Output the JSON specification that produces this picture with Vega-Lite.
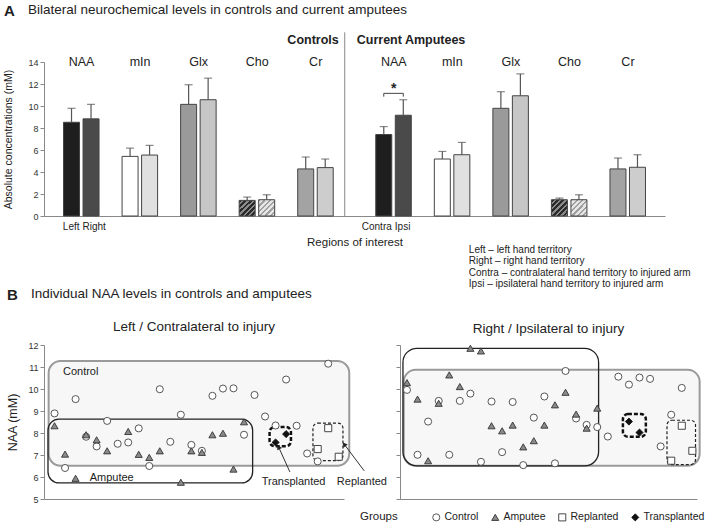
{
  "$schema": "https://vega.github.io/schema/vega-lite/v6.json",
  "padding": {"left": 3, "top": 3, "right": 5, "bottom": 3},
  "config": {
    "font": "Liberation Sans",
    "view": {"stroke": null},
    "axis": {"labelColor": "#333", "titleColor": "#222", "domainColor": "#888", "tickColor": "#888", "grid": false, "labelFont": "Liberation Sans", "titleFont": "Liberation Sans", "titleFontWeight": "normal", "labelOverlap": false},
    "axisY": {"tickCount": 8},
    "text": {"color": "#222", "font": "Liberation Sans"},
    "title": {"color": "#222", "font": "Liberation Sans", "subtitleFont": "Liberation Sans", "subtitleColor": "#222"},
    "legend": {"labelFont": "Liberation Sans", "titleFont": "Liberation Sans"}
  },
  "title": {"text": "A", "anchor": "start", "frame": "bounds", "fontSize": 15, "fontWeight": "bold", "offset": -16},
  "datasets": {
    "bars": [
      {"slot": "C NAA L", "grp": "Controls", "metab": "NAA", "side": "L", "series": "NAA L", "mean": 8.52, "hi": 9.79},
      {"slot": "C NAA R", "grp": "Controls", "metab": "NAA", "side": "R", "series": "NAA R", "mean": 8.83, "hi": 10.15},
      {"slot": "C mIn L", "grp": "Controls", "metab": "mIn", "side": "L", "series": "mIn L", "mean": 5.42, "hi": 6.17},
      {"slot": "C mIn R", "grp": "Controls", "metab": "mIn", "side": "R", "series": "mIn R", "mean": 5.54, "hi": 6.42},
      {"slot": "C Glx L", "grp": "Controls", "metab": "Glx", "side": "L", "series": "Glx L", "mean": 10.15, "hi": 11.93},
      {"slot": "C Glx R", "grp": "Controls", "metab": "Glx", "side": "R", "series": "Glx R", "mean": 10.57, "hi": 12.53},
      {"slot": "C Cho L", "grp": "Controls", "metab": "Cho", "side": "L", "series": "Cho L", "mean": 1.42, "hi": 1.72},
      {"slot": "C Cho R", "grp": "Controls", "metab": "Cho", "side": "R", "series": "Cho R", "mean": 1.48, "hi": 1.93},
      {"slot": "C Cr L", "grp": "Controls", "metab": "Cr", "side": "L", "series": "Cr L", "mean": 4.28, "hi": 5.36},
      {"slot": "C Cr R", "grp": "Controls", "metab": "Cr", "side": "R", "series": "Cr R", "mean": 4.40, "hi": 5.18},
      {"slot": "A NAA L", "grp": "Amputees", "metab": "NAA", "side": "L", "series": "NAA L", "mean": 7.41, "hi": 8.13},
      {"slot": "A NAA R", "grp": "Amputees", "metab": "NAA", "side": "R", "series": "NAA R", "mean": 9.16, "hi": 10.57},
      {"slot": "A mIn L", "grp": "Amputees", "metab": "mIn", "side": "L", "series": "mIn L", "mean": 5.18, "hi": 5.87},
      {"slot": "A mIn R", "grp": "Amputees", "metab": "mIn", "side": "R", "series": "mIn R", "mean": 5.57, "hi": 6.69},
      {"slot": "A Glx L", "grp": "Amputees", "metab": "Glx", "side": "L", "series": "Glx L", "mean": 9.79, "hi": 11.30},
      {"slot": "A Glx R", "grp": "Amputees", "metab": "Glx", "side": "R", "series": "Glx R", "mean": 10.93, "hi": 12.92},
      {"slot": "A Cho L", "grp": "Amputees", "metab": "Cho", "side": "L", "series": "Cho L", "mean": 1.48, "hi": 1.63},
      {"slot": "A Cho R", "grp": "Amputees", "metab": "Cho", "side": "R", "series": "Cho R", "mean": 1.48, "hi": 1.93},
      {"slot": "A Cr L", "grp": "Amputees", "metab": "Cr", "side": "L", "series": "Cr L", "mean": 4.28, "hi": 5.27},
      {"slot": "A Cr R", "grp": "Amputees", "metab": "Cr", "side": "R", "series": "Cr R", "mean": 4.43, "hi": 5.57}
    ],
    "sidelabels": [
      {"slot": "C NAA L", "side": "L", "lab": "Left"},
      {"slot": "C NAA R", "side": "R", "lab": "Right"},
      {"slot": "A NAA L", "side": "L", "lab": "Contra"},
      {"slot": "A NAA R", "side": "R", "lab": "Ipsi"}
    ],
    "bracket": [
      {"slot": "A NAA L", "v": 10.85, "o": 0},
      {"slot": "A NAA L", "v": 11.15, "o": 1},
      {"slot": "A NAA R", "v": 11.15, "o": 2},
      {"slot": "A NAA R", "v": 10.85, "o": 3}
    ],
    "pts": [
      {"panel": "Left", "group": "Control", "idx": 1, "naa": 8.89},
      {"panel": "Left", "group": "Control", "idx": 2, "naa": 6.41},
      {"panel": "Left", "group": "Control", "idx": 3, "naa": 9.54},
      {"panel": "Left", "group": "Control", "idx": 4, "naa": 7.83},
      {"panel": "Left", "group": "Control", "idx": 5, "naa": 7.39},
      {"panel": "Left", "group": "Control", "idx": 6, "naa": 8.55},
      {"panel": "Left", "group": "Control", "idx": 7, "naa": 7.51},
      {"panel": "Left", "group": "Control", "idx": 8, "naa": 7.57},
      {"panel": "Left", "group": "Control", "idx": 9, "naa": 8.21},
      {"panel": "Left", "group": "Control", "idx": 10, "naa": 6.50},
      {"panel": "Left", "group": "Control", "idx": 11, "naa": 9.99},
      {"panel": "Left", "group": "Control", "idx": 12, "naa": 7.60},
      {"panel": "Left", "group": "Control", "idx": 13, "naa": 8.83},
      {"panel": "Left", "group": "Control", "idx": 14, "naa": 7.46},
      {"panel": "Left", "group": "Control", "idx": 15, "naa": 7.19},
      {"panel": "Left", "group": "Control", "idx": 16, "naa": 9.69},
      {"panel": "Left", "group": "Control", "idx": 17, "naa": 10.02},
      {"panel": "Left", "group": "Control", "idx": 18, "naa": 10.03},
      {"panel": "Left", "group": "Control", "idx": 19, "naa": 7.92},
      {"panel": "Left", "group": "Control", "idx": 20, "naa": 9.73},
      {"panel": "Left", "group": "Control", "idx": 21, "naa": 8.75},
      {"panel": "Left", "group": "Control", "idx": 22, "naa": 8.34},
      {"panel": "Left", "group": "Control", "idx": 23, "naa": 10.43},
      {"panel": "Left", "group": "Control", "idx": 24, "naa": 8.33},
      {"panel": "Left", "group": "Control", "idx": 25, "naa": 7.07},
      {"panel": "Left", "group": "Control", "idx": 26, "naa": 6.71},
      {"panel": "Left", "group": "Control", "idx": 27, "naa": 11.15},
      {"panel": "Left", "group": "Amputee", "idx": 1, "naa": 8.33},
      {"panel": "Left", "group": "Amputee", "idx": 2, "naa": 7.04},
      {"panel": "Left", "group": "Amputee", "idx": 3, "naa": 5.94},
      {"panel": "Left", "group": "Amputee", "idx": 4, "naa": 7.92},
      {"panel": "Left", "group": "Amputee", "idx": 5, "naa": 7.69},
      {"panel": "Left", "group": "Amputee", "idx": 6, "naa": 7.19},
      {"panel": "Left", "group": "Amputee", "idx": 8, "naa": 8.07},
      {"panel": "Left", "group": "Amputee", "idx": 9, "naa": 7.03},
      {"panel": "Left", "group": "Amputee", "idx": 10, "naa": 6.89},
      {"panel": "Left", "group": "Amputee", "idx": 11, "naa": 7.19},
      {"panel": "Left", "group": "Amputee", "idx": 13, "naa": 5.76},
      {"panel": "Left", "group": "Amputee", "idx": 14, "naa": 7.19},
      {"panel": "Left", "group": "Amputee", "idx": 15, "naa": 7.12},
      {"panel": "Left", "group": "Amputee", "idx": 16, "naa": 7.92},
      {"panel": "Left", "group": "Amputee", "idx": 17, "naa": 7.99},
      {"panel": "Left", "group": "Amputee", "idx": 18, "naa": 6.36},
      {"panel": "Left", "group": "Amputee", "idx": 19, "naa": 8.51},
      {"panel": "Left", "group": "Replanted", "idx": 27, "naa": 8.22},
      {"panel": "Left", "group": "Replanted", "idx": 26, "naa": 7.27},
      {"panel": "Left", "group": "Replanted", "idx": 28, "naa": 6.92},
      {"panel": "Left", "group": "Transplanted", "idx": 23, "naa": 7.95},
      {"panel": "Left", "group": "Transplanted", "idx": 22, "naa": 7.57},
      {"panel": "Right", "group": "Control", "idx": 1, "naa": 9.96},
      {"panel": "Right", "group": "Control", "idx": 2, "naa": 7.01},
      {"panel": "Right", "group": "Control", "idx": 3, "naa": 8.52},
      {"panel": "Right", "group": "Control", "idx": 4, "naa": 9.46},
      {"panel": "Right", "group": "Control", "idx": 5, "naa": 7.01},
      {"panel": "Right", "group": "Control", "idx": 6, "naa": 9.46},
      {"panel": "Right", "group": "Control", "idx": 7, "naa": 9.79},
      {"panel": "Right", "group": "Control", "idx": 8, "naa": 6.69},
      {"panel": "Right", "group": "Control", "idx": 9, "naa": 9.43},
      {"panel": "Right", "group": "Control", "idx": 10, "naa": 7.13},
      {"panel": "Right", "group": "Control", "idx": 11, "naa": 9.41},
      {"panel": "Right", "group": "Control", "idx": 12, "naa": 6.54},
      {"panel": "Right", "group": "Control", "idx": 13, "naa": 8.70},
      {"panel": "Right", "group": "Control", "idx": 14, "naa": 9.66},
      {"panel": "Right", "group": "Control", "idx": 15, "naa": 6.62},
      {"panel": "Right", "group": "Control", "idx": 16, "naa": 10.82},
      {"panel": "Right", "group": "Control", "idx": 17, "naa": 8.66},
      {"panel": "Right", "group": "Control", "idx": 18, "naa": 8.37},
      {"panel": "Right", "group": "Control", "idx": 19, "naa": 8.27},
      {"panel": "Right", "group": "Control", "idx": 20, "naa": 7.84},
      {"panel": "Right", "group": "Control", "idx": 21, "naa": 10.56},
      {"panel": "Right", "group": "Control", "idx": 22, "naa": 10.20},
      {"panel": "Right", "group": "Control", "idx": 23, "naa": 10.52},
      {"panel": "Right", "group": "Control", "idx": 24, "naa": 10.46},
      {"panel": "Right", "group": "Control", "idx": 25, "naa": 7.39},
      {"panel": "Right", "group": "Control", "idx": 26, "naa": 8.83},
      {"panel": "Right", "group": "Control", "idx": 27, "naa": 10.05},
      {"panel": "Right", "group": "Amputee", "idx": 1, "naa": 10.29},
      {"panel": "Right", "group": "Amputee", "idx": 2, "naa": 9.54},
      {"panel": "Right", "group": "Amputee", "idx": 3, "naa": 6.74},
      {"panel": "Right", "group": "Amputee", "idx": 4, "naa": 9.35},
      {"panel": "Right", "group": "Amputee", "idx": 5, "naa": 10.64},
      {"panel": "Right", "group": "Amputee", "idx": 6, "naa": 10.11},
      {"panel": "Right", "group": "Amputee", "idx": 7, "naa": 11.85},
      {"panel": "Right", "group": "Amputee", "idx": 8, "naa": 11.73},
      {"panel": "Right", "group": "Amputee", "idx": 9, "naa": 8.33},
      {"panel": "Right", "group": "Amputee", "idx": 10, "naa": 8.10},
      {"panel": "Right", "group": "Amputee", "idx": 11, "naa": 8.36},
      {"panel": "Right", "group": "Amputee", "idx": 12, "naa": 7.37},
      {"panel": "Right", "group": "Amputee", "idx": 13, "naa": 7.65},
      {"panel": "Right", "group": "Amputee", "idx": 14, "naa": 8.36},
      {"panel": "Right", "group": "Amputee", "idx": 15, "naa": 9.28},
      {"panel": "Right", "group": "Amputee", "idx": 16, "naa": 9.85},
      {"panel": "Right", "group": "Amputee", "idx": 17, "naa": 8.86},
      {"panel": "Right", "group": "Amputee", "idx": 18, "naa": 8.22},
      {"panel": "Right", "group": "Amputee", "idx": 19, "naa": 9.13},
      {"panel": "Right", "group": "Replanted", "idx": 27, "naa": 8.33},
      {"panel": "Right", "group": "Replanted", "idx": 28, "naa": 7.19},
      {"panel": "Right", "group": "Replanted", "idx": 26, "naa": 6.74},
      {"panel": "Right", "group": "Transplanted", "idx": 22, "naa": 8.52},
      {"panel": "Right", "group": "Transplanted", "idx": 23, "naa": 8.02}
    ],
    "boxes": [
      {"panel": "Left", "box": "Control", "x1": 0.44, "x2": 29.0, "y1": 6.51, "y2": 11.27},
      {"panel": "Left", "box": "Amputee", "x1": 0.38, "x2": 19.82, "y1": 5.73, "y2": 8.63},
      {"panel": "Left", "box": "Transplanted", "x1": 21.43, "x2": 23.46, "y1": 7.40, "y2": 8.27},
      {"panel": "Left", "box": "Replanted", "x1": 25.55, "x2": 28.4, "y1": 6.74, "y2": 8.45},
      {"panel": "Right", "box": "Control", "x1": 0.69, "x2": 28.69, "y1": 6.51, "y2": 10.87},
      {"panel": "Right", "box": "Amputee", "x1": 0.62, "x2": 19.13, "y1": 6.51, "y2": 11.85},
      {"panel": "Right", "box": "Transplanted", "x1": 21.43, "x2": 23.6, "y1": 7.83, "y2": 8.86},
      {"panel": "Right", "box": "Replanted", "x1": 25.6, "x2": 28.3, "y1": 6.56, "y2": 8.58}
    ],
    "arrows": [
      {"to": "Transplanted", "x1": 23.36, "y1": 6.23, "x2": 22.29, "y2": 7.36},
      {"to": "Replanted", "x1": 30.42, "y1": 6.28, "x2": 28.52, "y2": 7.49}
    ]
  },
  "resolve": {
    "scale": {"fill": "independent", "shape": "independent", "stroke": "independent"},
    "legend": {"fill": "independent", "shape": "independent", "stroke": "independent"}
  },
  "bounds": "flush",
  "spacing": 129,
  "vconcat": [
    {
      "width": 621,
      "height": 154,
      "title": {
        "text": "Bilateral neurochemical levels in controls and current amputees",
        "anchor": "start", "frame": "bounds", "fontSize": 13.5, "fontWeight": "normal", "dx": 24, "offset": 15
      },
      "data": {"name": "bars"},
      "layer": [
        {
          "mark": {"type": "bar", "stroke": "#444", "strokeWidth": 1},
          "encoding": {
            "x": {
              "field": "slot", "type": "nominal",
              "scale": {
                "domain": ["C NAA L", "C NAA R", "g1", "C mIn L", "C mIn R", "g2", "C Glx L", "C Glx R", "g3", "C Cho L", "C Cho R", "g4", "C Cr L", "C Cr R", "g5", "g6", "A NAA L", "A NAA R", "g7", "A mIn L", "A mIn R", "g8", "A Glx L", "A Glx R", "g9", "A Cho L", "A Cho R", "g10", "A Cr L", "A Cr R"],
                "paddingInner": 0.18, "paddingOuter": 1.015
              },
              "axis": {"title": "Regions of interest", "titleFontSize": 11.5, "titlePadding": 20, "labels": false, "ticks": false}
            },
            "y": {
              "field": "mean", "type": "quantitative",
              "scale": {"domain": [0, 14], "nice": false},
              "axis": {"title": "Absolute concentrations (mM)", "values": [0, 2, 4, 6, 8, 10, 12, 14], "tickCount": 8, "titleFontSize": 10.5, "labelFontSize": 9, "tickSize": 4, "titlePadding": 14}
            },
            "fill": {
              "condition": [
                {"test": "datum.series === 'Cho L'", "value": {"gradient": "linear", "x1": 0, "y1": 0, "x2": 1, "y2": 1, "stops": [
                  {"offset": 0, "color": "#2a2a2a"}, {"offset": 0.09, "color": "#2a2a2a"}, {"offset": 0.09, "color": "#8a8a8a"}, {"offset": 0.167, "color": "#8a8a8a"},
                  {"offset": 0.167, "color": "#2a2a2a"}, {"offset": 0.257, "color": "#2a2a2a"}, {"offset": 0.257, "color": "#8a8a8a"}, {"offset": 0.333, "color": "#8a8a8a"},
                  {"offset": 0.333, "color": "#2a2a2a"}, {"offset": 0.423, "color": "#2a2a2a"}, {"offset": 0.423, "color": "#8a8a8a"}, {"offset": 0.5, "color": "#8a8a8a"},
                  {"offset": 0.5, "color": "#2a2a2a"}, {"offset": 0.59, "color": "#2a2a2a"}, {"offset": 0.59, "color": "#8a8a8a"}, {"offset": 0.667, "color": "#8a8a8a"},
                  {"offset": 0.667, "color": "#2a2a2a"}, {"offset": 0.757, "color": "#2a2a2a"}, {"offset": 0.757, "color": "#8a8a8a"}, {"offset": 0.833, "color": "#8a8a8a"},
                  {"offset": 0.833, "color": "#2a2a2a"}, {"offset": 0.923, "color": "#2a2a2a"}, {"offset": 0.923, "color": "#8a8a8a"}, {"offset": 1, "color": "#8a8a8a"}
                ]}},
                {"test": "datum.series === 'Cho R'", "value": {"gradient": "linear", "x1": 0, "y1": 0, "x2": 1, "y2": 1, "stops": [
                  {"offset": 0, "color": "#a0a0a0"}, {"offset": 0.07, "color": "#a0a0a0"}, {"offset": 0.07, "color": "#e6e6e6"}, {"offset": 0.167, "color": "#e6e6e6"},
                  {"offset": 0.167, "color": "#a0a0a0"}, {"offset": 0.237, "color": "#a0a0a0"}, {"offset": 0.237, "color": "#e6e6e6"}, {"offset": 0.333, "color": "#e6e6e6"},
                  {"offset": 0.333, "color": "#a0a0a0"}, {"offset": 0.403, "color": "#a0a0a0"}, {"offset": 0.403, "color": "#e6e6e6"}, {"offset": 0.5, "color": "#e6e6e6"},
                  {"offset": 0.5, "color": "#a0a0a0"}, {"offset": 0.57, "color": "#a0a0a0"}, {"offset": 0.57, "color": "#e6e6e6"}, {"offset": 0.667, "color": "#e6e6e6"},
                  {"offset": 0.667, "color": "#a0a0a0"}, {"offset": 0.737, "color": "#a0a0a0"}, {"offset": 0.737, "color": "#e6e6e6"}, {"offset": 0.833, "color": "#e6e6e6"},
                  {"offset": 0.833, "color": "#a0a0a0"}, {"offset": 0.903, "color": "#a0a0a0"}, {"offset": 0.903, "color": "#e6e6e6"}, {"offset": 1, "color": "#e6e6e6"}
                ]}}
              ],
              "field": "series", "type": "nominal", "legend": null,
              "scale": {
                "domain": ["NAA L", "NAA R", "mIn L", "mIn R", "Glx L", "Glx R", "Cho L", "Cho R", "Cr L", "Cr R"],
                "range": ["#1e1e1e", "#4a4a4a", "#ffffff", "#e0e0e0", "#9a9a9a", "#c6c6c6", "#4d4d4d", "#cccccc", "#a3a3a3", "#cdcdcd"]
              }
            }
          }
        },
        {
          "mark": {"type": "rule", "color": "#555", "strokeWidth": 1.2},
          "encoding": {
            "x": {"field": "slot", "type": "nominal"},
            "y": {"field": "mean", "type": "quantitative"},
            "y2": {"field": "hi"}
          }
        },
        {
          "mark": {"type": "tick", "orient": "horizontal", "size": 8, "thickness": 1.2, "color": "#555"},
          "encoding": {
            "x": {"field": "slot", "type": "nominal"},
            "y": {"field": "hi", "type": "quantitative"}
          }
        },
        {
          "transform": [{"filter": "datum.side === 'L'"}],
          "mark": {"type": "text", "fontSize": 12.5, "dx": 10, "baseline": "middle", "align": "center"},
          "encoding": {
            "x": {"field": "slot", "type": "nominal"},
            "y": {"datum": 14},
            "text": {"field": "metab"}
          }
        },
        {
          "data": {"name": "sidelabels"},
          "transform": [{"filter": "datum.side === 'L'"}],
          "mark": {"type": "text", "fontSize": 10, "dx": 8, "baseline": "middle", "align": "right"},
          "encoding": {
            "x": {"field": "slot", "type": "nominal"},
            "y": {"datum": -1.0},
            "text": {"field": "lab"}
          }
        },
        {
          "data": {"name": "sidelabels"},
          "transform": [{"filter": "datum.side === 'R'"}],
          "mark": {"type": "text", "fontSize": 10, "dx": -8.5, "baseline": "middle", "align": "left"},
          "encoding": {
            "x": {"field": "slot", "type": "nominal"},
            "y": {"datum": -1.0},
            "text": {"field": "lab"}
          }
        },
        {
          "data": {"values": [{}]},
          "mark": {"type": "rule", "color": "#888", "strokeWidth": 1},
          "encoding": {
            "x": {"datum": "g5"},
            "y": {"datum": 0},
            "y2": {"datum": 16.7}
          }
        },
        {
          "data": {"values": [{}]},
          "mark": {"type": "text", "text": "Controls", "fontSize": 12.5, "fontWeight": "bold", "align": "right", "dx": -6, "baseline": "middle"},
          "encoding": {
            "x": {"datum": "g5"},
            "y": {"datum": 16}
          }
        },
        {
          "data": {"values": [{}]},
          "mark": {"type": "text", "text": "Current Amputees", "fontSize": 12.5, "fontWeight": "bold", "align": "left", "dx": 12, "baseline": "middle"},
          "encoding": {
            "x": {"datum": "g5"},
            "y": {"datum": 16}
          }
        },
        {
          "data": {"name": "bracket"},
          "mark": {"type": "line", "color": "#444", "strokeWidth": 1},
          "encoding": {
            "x": {"field": "slot", "type": "nominal"},
            "y": {"field": "v", "type": "quantitative"},
            "order": {"field": "o"}
          }
        },
        {
          "data": {"values": [{}]},
          "mark": {"type": "text", "text": "*", "fontSize": 14, "fontWeight": "bold", "dx": 10, "baseline": "middle"},
          "encoding": {
            "x": {"datum": "A NAA L"},
            "y": {"datum": 11.55}
          }
        },
        {
          "data": {"values": [{}]},
          "mark": {
            "type": "text", "align": "left", "baseline": "top", "fontSize": 10, "lineHeight": 11.2, "dx": 7,
            "text": ["Left \u2013 left hand territory", "Right \u2013 right hand territory", "Contra \u2013 contralateral hand territory to injured arm", "Ipsi \u2013 ipsilateral hand territory to injured arm"]
          },
          "encoding": {
            "x": {"datum": "A mIn R"},
            "y": {"datum": -2.65}
          }
        }
      ]
    },
    {
      "title": {"text": "B", "anchor": "start", "frame": "bounds", "fontSize": 15, "fontWeight": "bold", "offset": -16},
      "bounds": "flush",
      "resolve": {
        "scale": {"fill": "independent", "shape": "independent", "stroke": "independent"},
        "legend": {"fill": "independent", "shape": "independent", "stroke": "independent"}
      },
      "vconcat": [
        {
          "title": {
            "text": "Individual NAA levels in controls and amputees",
            "anchor": "start", "frame": "bounds", "fontSize": 13.5, "fontWeight": "normal", "dx": 24, "offset": 19
          },
          "bounds": "flush",
          "spacing": 56,
          "resolve": {
            "scale": {"fill": "independent", "shape": "independent", "stroke": "independent"},
            "legend": {"fill": "independent", "shape": "independent", "stroke": "independent"}
          },
          "hconcat": [
            {
              "width": 300,
              "height": 154,
              "title": {"text": "Left / Contralateral to injury", "fontSize": 13.5, "fontWeight": "normal", "anchor": "middle", "offset": 8},
              "layer": [
                {
                  "data": {"name": "boxes"},
                  "transform": [{"filter": "datum.panel === 'Left' && datum.box === 'Control'"}],
                  "mark": {"type": "rect", "fill": "#f7f7f7", "stroke": "#9a9a9a", "strokeWidth": 2, "cornerRadius": 12},
                  "encoding": {
                    "x": {"field": "x1", "type": "quantitative", "scale": {"domain": [0, 28.5], "nice": false, "zero": false}, "axis": {"title": null, "labels": false, "ticks": false}},
                    "x2": {"field": "x2"},
                    "y": {"field": "y1", "type": "quantitative", "scale": {"domain": [5, 12], "nice": false, "zero": false}, "axis": {"title": "NAA (mM)", "values": [5, 6, 7, 8, 9, 10, 11, 12], "tickCount": 8, "titleFontSize": 12.5, "labelFontSize": 9, "tickSize": 4, "titlePadding": 8}},
                    "y2": {"field": "y2"}
                  }
                },
                {
                  "data": {"name": "boxes"},
                  "transform": [{"filter": "datum.panel === 'Left' && datum.box === 'Amputee'"}],
                  "mark": {"type": "rect", "fill": "#ffffff", "fillOpacity": 0, "stroke": "#222", "strokeWidth": 1.3, "cornerRadius": 11},
                  "encoding": {
                    "x": {"field": "x1", "type": "quantitative"}, "x2": {"field": "x2"},
                    "y": {"field": "y1", "type": "quantitative"}, "y2": {"field": "y2"}
                  }
                },
                {
                  "data": {"name": "boxes"},
                  "transform": [{"filter": "datum.panel === 'Left' && datum.box === 'Transplanted'"}],
                  "mark": {"type": "rect", "fill": "#ffffff", "fillOpacity": 0, "stroke": "#111", "strokeWidth": 2.5, "strokeDash": [4, 2], "cornerRadius": 5},
                  "encoding": {
                    "x": {"field": "x1", "type": "quantitative"}, "x2": {"field": "x2"},
                    "y": {"field": "y1", "type": "quantitative"}, "y2": {"field": "y2"}
                  }
                },
                {
                  "data": {"name": "boxes"},
                  "transform": [{"filter": "datum.panel === 'Left' && datum.box === 'Replanted'"}],
                  "mark": {"type": "rect", "fill": "#ffffff", "fillOpacity": 0, "stroke": "#222", "strokeWidth": 1.2, "strokeDash": [3, 2], "cornerRadius": 5},
                  "encoding": {
                    "x": {"field": "x1", "type": "quantitative"}, "x2": {"field": "x2"},
                    "y": {"field": "y1", "type": "quantitative"}, "y2": {"field": "y2"}
                  }
                },
                {
                  "data": {"name": "arrows"},
                  "mark": {"type": "rule", "color": "#333", "strokeWidth": 1},
                  "encoding": {
                    "x": {"field": "x1", "type": "quantitative"}, "x2": {"field": "x2"},
                    "y": {"field": "y1", "type": "quantitative"}, "y2": {"field": "y2"}
                  }
                },
                {
                  "data": {"name": "arrows"},
                  "transform": [{"filter": "datum.to === 'Transplanted'"}],
                  "mark": {"type": "point", "shape": "triangle-up", "filled": true, "color": "#222", "size": 28, "angle": 336, "opacity": 1},
                  "encoding": {
                    "x": {"field": "x2", "type": "quantitative"},
                    "y": {"field": "y2", "type": "quantitative"}
                  }
                },
                {
                  "data": {"name": "arrows"},
                  "transform": [{"filter": "datum.to === 'Replanted'"}],
                  "mark": {"type": "point", "shape": "triangle-up", "filled": true, "color": "#222", "size": 28, "angle": 323, "opacity": 1},
                  "encoding": {
                    "x": {"field": "x2", "type": "quantitative"},
                    "y": {"field": "y2", "type": "quantitative"}
                  }
                },
                {
                  "data": {"name": "pts"},
                  "transform": [{"filter": "datum.panel === 'Left'"}],
                  "mark": {"type": "point", "filled": true, "size": 50, "strokeWidth": 0.9, "opacity": 1},
                  "encoding": {
                    "x": {"field": "idx", "type": "quantitative"},
                    "y": {"field": "naa", "type": "quantitative"},
                    "shape": {"field": "group", "type": "nominal", "legend": null, "scale": {"domain": ["Control", "Amputee", "Replanted", "Transplanted"], "range": ["circle", "triangle-up", "square", "diamond"]}},
                    "fill": {"field": "group", "type": "nominal", "legend": null, "scale": {"domain": ["Control", "Amputee", "Replanted", "Transplanted"], "range": ["#ffffff", "#8a8a8a", "#ffffff", "#111111"]}},
                    "stroke": {"field": "group", "type": "nominal", "legend": null, "scale": {"domain": ["Control", "Amputee", "Replanted", "Transplanted"], "range": ["#444444", "#333333", "#333333", "#111111"]}}
                  }
                },
                {
                  "data": {"values": [{}]},
                  "mark": {"type": "text", "text": "Control", "fontSize": 11, "align": "left", "baseline": "middle"},
                  "encoding": {"x": {"datum": 1.8}, "y": {"datum": 10.79}}
                },
                {
                  "data": {"values": [{}]},
                  "mark": {"type": "text", "text": "Amputee", "fontSize": 11, "align": "left", "baseline": "middle"},
                  "encoding": {"x": {"datum": 4.34}, "y": {"datum": 5.95}}
                },
                {
                  "data": {"values": [{}]},
                  "mark": {"type": "text", "text": "Transplanted", "fontSize": 11, "align": "center", "baseline": "middle"},
                  "encoding": {"x": {"datum": 23.71}, "y": {"datum": 5.78}}
                },
                {
                  "data": {"values": [{}]},
                  "mark": {"type": "text", "text": "Replanted", "fontSize": 11, "align": "center", "baseline": "middle"},
                  "encoding": {"x": {"datum": 30.2}, "y": {"datum": 5.78}}
                }
              ]
            },
            {
              "width": 297,
              "height": 154,
              "title": {"text": "Right / Ipsilateral to injury", "fontSize": 13.5, "fontWeight": "normal", "anchor": "middle", "offset": 8},
              "layer": [
                {
                  "data": {"name": "boxes"},
                  "transform": [{"filter": "datum.panel === 'Right' && datum.box === 'Control'"}],
                  "mark": {"type": "rect", "fill": "#f7f7f7", "stroke": "#9a9a9a", "strokeWidth": 2, "cornerRadius": 12},
                  "encoding": {
                    "x": {"field": "x1", "type": "quantitative", "scale": {"domain": [0.34, 28.44], "nice": false, "zero": false}, "axis": {"title": null, "labels": false, "ticks": false}},
                    "x2": {"field": "x2"},
                    "y": {"field": "y1", "type": "quantitative", "scale": {"domain": [5, 12], "nice": false, "zero": false}, "axis": {"title": null, "labels": false, "values": [5, 6, 7, 8, 9, 10, 11, 12], "tickCount": 8, "tickSize": 4}},
                    "y2": {"field": "y2"}
                  }
                },
                {
                  "data": {"name": "boxes"},
                  "transform": [{"filter": "datum.panel === 'Right' && datum.box === 'Amputee'"}],
                  "mark": {"type": "rect", "fill": "#ffffff", "fillOpacity": 0, "stroke": "#222", "strokeWidth": 1.3, "cornerRadius": 14},
                  "encoding": {
                    "x": {"field": "x1", "type": "quantitative"}, "x2": {"field": "x2"},
                    "y": {"field": "y1", "type": "quantitative"}, "y2": {"field": "y2"}
                  }
                },
                {
                  "data": {"name": "boxes"},
                  "transform": [{"filter": "datum.panel === 'Right' && datum.box === 'Transplanted'"}],
                  "mark": {"type": "rect", "fill": "#ffffff", "fillOpacity": 0, "stroke": "#111", "strokeWidth": 2.5, "strokeDash": [4, 2], "cornerRadius": 5},
                  "encoding": {
                    "x": {"field": "x1", "type": "quantitative"}, "x2": {"field": "x2"},
                    "y": {"field": "y1", "type": "quantitative"}, "y2": {"field": "y2"}
                  }
                },
                {
                  "data": {"name": "boxes"},
                  "transform": [{"filter": "datum.panel === 'Right' && datum.box === 'Replanted'"}],
                  "mark": {"type": "rect", "fill": "#ffffff", "fillOpacity": 0, "stroke": "#222", "strokeWidth": 1.2, "strokeDash": [3, 2], "cornerRadius": 5},
                  "encoding": {
                    "x": {"field": "x1", "type": "quantitative"}, "x2": {"field": "x2"},
                    "y": {"field": "y1", "type": "quantitative"}, "y2": {"field": "y2"}
                  }
                },
                {
                  "data": {"name": "pts"},
                  "transform": [{"filter": "datum.panel === 'Right'"}],
                  "mark": {"type": "point", "filled": true, "size": 50, "strokeWidth": 0.9, "opacity": 1},
                  "encoding": {
                    "x": {"field": "idx", "type": "quantitative"},
                    "y": {"field": "naa", "type": "quantitative"},
                    "shape": {"field": "group", "type": "nominal", "title": "Groups", "scale": {"domain": ["Control", "Amputee", "Replanted", "Transplanted"], "range": ["circle", "triangle-up", "square", "diamond"]},
                      "legend": {"orient": "none", "legendX": -40, "legendY": 167, "direction": "horizontal", "titleOrient": "left", "titleFontSize": 11.5, "titleFontWeight": "normal", "titleColor": "#222", "titlePadding": 33, "labelFontSize": 10.5, "labelColor": "#222", "symbolSize": 50, "columnPadding": 10, "labelOffset": 3, "symbolStrokeWidth": 0.9}},
                    "fill": {"field": "group", "type": "nominal", "title": "Groups", "scale": {"domain": ["Control", "Amputee", "Replanted", "Transplanted"], "range": ["#ffffff", "#8a8a8a", "#ffffff", "#111111"]},
                      "legend": {"orient": "none", "legendX": -40, "legendY": 167, "direction": "horizontal", "titleOrient": "left", "titleFontSize": 11.5, "titleFontWeight": "normal", "titleColor": "#222", "titlePadding": 33, "labelFontSize": 10.5, "labelColor": "#222", "symbolSize": 50, "columnPadding": 10, "labelOffset": 3, "symbolStrokeWidth": 0.9}},
                    "stroke": {"field": "group", "type": "nominal", "title": "Groups", "scale": {"domain": ["Control", "Amputee", "Replanted", "Transplanted"], "range": ["#444444", "#333333", "#333333", "#111111"]},
                      "legend": {"orient": "none", "legendX": -40, "legendY": 167, "direction": "horizontal", "titleOrient": "left", "titleFontSize": 11.5, "titleFontWeight": "normal", "titleColor": "#222", "titlePadding": 33, "labelFontSize": 10.5, "labelColor": "#222", "symbolSize": 50, "columnPadding": 10, "labelOffset": 3, "symbolStrokeWidth": 0.9}}
                  }
                }
              ]
            }
          ]
        }
      ]
    }
  ]
}
